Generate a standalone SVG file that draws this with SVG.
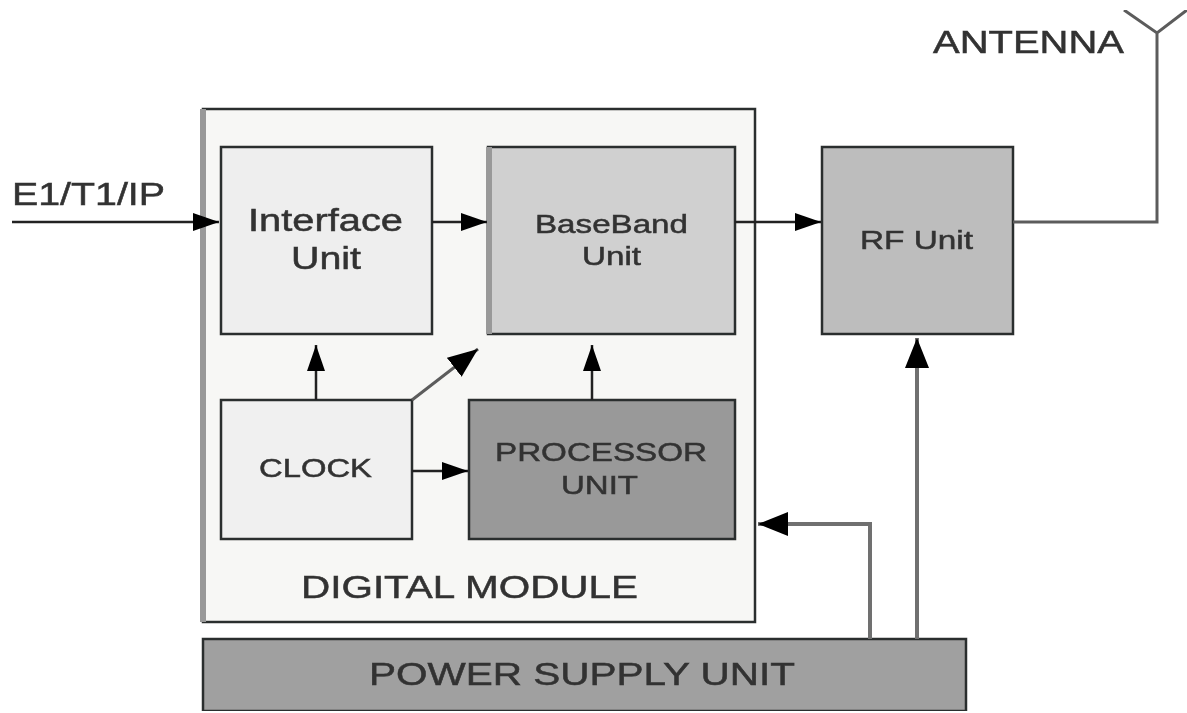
<svg xmlns="http://www.w3.org/2000/svg" width="1187" height="713" viewBox="0 0 1187 713">
<style>
.b{stroke:#2c2e2e;stroke-width:2.5}
.t{font-family:"Liberation Sans",Arial,sans-serif;fill:#333333;stroke:#333333;stroke-width:0.5;text-anchor:start}
.c{fill:none;stroke:#222222;stroke-width:2.5}
.g{fill:none;stroke:#707070;stroke-width:4}
.h{fill:none;stroke:#5c5c5c;stroke-width:3}
.e{fill:none;stroke:#999999;stroke-width:6}
</style>
<defs>
<filter id="soft" x="0" y="0" width="100%" height="100%"><feGaussianBlur stdDeviation="0.6"/></filter>
<marker id="a" markerUnits="userSpaceOnUse" markerWidth="28" markerHeight="20" refX="26" refY="9" orient="auto"><path d="M0 0L26 9L0 18Z" fill="#000"/></marker>
<marker id="v" markerUnits="userSpaceOnUse" markerWidth="32" markerHeight="26" refX="30" refY="12" orient="auto"><path d="M0 0L30 12L0 24Z" fill="#000"/></marker>
</defs>
<rect width="1187" height="713" fill="#fff"/>
<g filter="url(#soft)">
<g id="digital"><rect class="b" x="203" y="109" width="552" height="513" fill="#f7f7f5"/><path class="e" d="M203 109V622"/><text class="t" x="301" y="598" font-size="32" textLength="337" lengthAdjust="spacingAndGlyphs">DIGITAL MODULE</text></g>
<g id="interface"><rect class="b" x="221" y="147" width="211" height="187" fill="#eeeeee"/><text class="t" x="248" y="231" font-size="31" textLength="155" lengthAdjust="spacingAndGlyphs">Interface</text><text class="t" x="291" y="269" font-size="31" textLength="70" lengthAdjust="spacingAndGlyphs">Unit</text></g>
<g id="baseband"><rect class="b" x="488" y="147" width="247" height="187" fill="#d0d0d0"/><path class="e" d="M489 147V334"/><text class="t" x="535" y="233" font-size="26" textLength="153" lengthAdjust="spacingAndGlyphs">BaseBand</text><text class="t" x="582" y="265" font-size="26" textLength="59" lengthAdjust="spacingAndGlyphs">Unit</text></g>
<g id="rf"><rect class="b" x="822" y="147" width="191" height="187" fill="#bdbdbd"/><text class="t" x="860" y="249" font-size="26" textLength="113" lengthAdjust="spacingAndGlyphs">RF Unit</text></g>
<g id="clock"><rect class="b" x="221" y="400" width="191" height="139" fill="#f0f0f0"/><text class="t" x="259" y="477" font-size="26" textLength="113" lengthAdjust="spacingAndGlyphs">CLOCK</text></g>
<g id="processor"><rect class="b" x="469" y="400" width="266" height="139" fill="#999999"/><text class="t" x="495" y="461" font-size="26" textLength="212" lengthAdjust="spacingAndGlyphs">PROCESSOR</text><text class="t" x="561" y="494" font-size="26" textLength="77" lengthAdjust="spacingAndGlyphs">UNIT</text></g>
<g id="power"><rect class="b" x="203" y="639" width="763" height="72" fill="#a0a0a0"/><text class="t" x="369" y="685" font-size="32" textLength="426" lengthAdjust="spacingAndGlyphs">POWER SUPPLY UNIT</text></g>
<g id="labels"><text class="t" x="12" y="205" font-size="31" textLength="153" lengthAdjust="spacingAndGlyphs">E1/T1/IP</text><text class="t" x="933" y="53" font-size="31" textLength="191" lengthAdjust="spacingAndGlyphs">ANTENNA</text></g>
<g id="connectors">
<path class="c" marker-end="url(#a)" d="M12 222H219"/>
<path class="c" marker-end="url(#a)" d="M432 222H487"/>
<path class="c" marker-end="url(#a)" d="M735 222H821"/>
<path class="h" d="M1013 222H1157V33M1124 10L1157 33L1187 10"/>
<path class="c" marker-end="url(#a)" d="M316 400V345"/>
<path class="h" marker-end="url(#v)" d="M412 400L478 349"/>
<path class="c" marker-end="url(#a)" d="M592 400V345"/>
<path class="c" marker-end="url(#a)" d="M412 471H468"/>
<path class="g" marker-end="url(#v)" d="M870 639V524H758"/>
<path class="g" marker-end="url(#v)" d="M917 639V338"/>
</g>
</g>
</svg>
